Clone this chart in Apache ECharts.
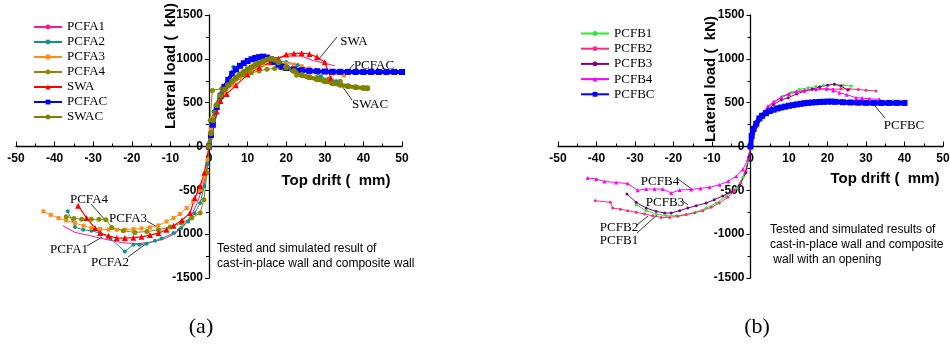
<!DOCTYPE html>
<html><head><meta charset="utf-8">
<script src="https://cdn.jsdelivr.net/npm/echarts@6/dist/echarts.min.js"></script>
<style>html,body{margin:0;padding:0;background:#fff}#c{width:950px;height:345px}</style>
</head><body><div id="c"></div>
<script>
// ---------- tick labels ----------
const xTicks = [-50,-40,-30,-20,-10,0,10,20,30,40,50];
const yTicks = [-1500,-1000,-500,0,500,1000,1500];

// ---------- panel (a) series: [top drift mm, lateral load kN] ----------
const PCFA1 = [[-37.9,-904],[-34.7,-980],[-31,-1015],[-28.2,-1045],[-25,-1075],[-23.1,-1095],[-20,-1105],[-17.9,-1106],[-15,-1090],[-12,-1060],[-9,-1000],[-6.5,-900],[-4.5,-780],[-3,-640],[-1.5,-450],[-0.5,-200],[0,0],[0.5,200],[1,330],[2,480],[4,630],[6,740],[8,830],[10,900],[13,960],[16,1000],[19,1025],[22,1035],[24,1030],[27,980],[30,950],[32.6,920]];
const PCFA2 = [[-36.6,-740],[-34.7,-919],[-32.6,-950],[-30.5,-961],[-28.2,-988],[-25.5,-1050],[-21.8,-1198],[-19.6,-1121],[-18,-1121],[-16.2,-1110],[-14,-1076],[-12.3,-1049],[-9.2,-988],[-7.2,-930],[-5.4,-855],[-3.7,-760],[-2.3,-645],[-1.2,-450],[-0.4,-200],[0,0],[0.5,250],[1.2,400],[3,600],[6.3,908],[8,920],[10,960],[12,985],[14,995],[16,990],[18,980],[20,965],[23,930],[26,880],[29,800],[31,760],[33,745]];
const PCFA3 = [[-42.9,-740],[-41,-780],[-39,-816],[-37,-845],[-34.7,-874],[-32.5,-904],[-30.4,-931],[-28.2,-942],[-26,-948],[-23.9,-950],[-21.7,-948],[-19.6,-942],[-17.5,-935],[-15.3,-923],[-13.1,-900],[-11,-855],[-9.2,-816],[-7.5,-770],[-5.8,-702],[-4.1,-626],[-2.3,-492],[-1.2,-350],[-0.4,-150],[0,0],[0.5,200],[1,320],[2,450],[4,600],[6,700],[8,780],[10,850],[12,900],[14,935],[16,950],[18,950],[20,945],[22,935],[24,915],[26,890],[28,870],[30,850],[32,830],[35,810]];
const PCFA4 = [[-37,-800],[-35,-820],[-33,-830],[-30.5,-830],[-28.5,-830],[-26.7,-835],[-25.2,-923],[-22.2,-961],[-19.2,-980],[-16.1,-970],[-13.1,-950],[-10.1,-919],[-7.1,-874],[-4.5,-816],[-2.3,-759],[-1.3,-606],[-0.5,-300],[0,0],[0.3,300],[0.86,640],[3.3,660],[5,720],[7,770],[9,812],[11,840],[13,862],[15,880],[17,890],[18.4,900],[20,890],[22.7,812],[25,800],[28,786],[31,770],[34,745]];
const SWA = [[-33.9,-675],[-31.7,-816],[-29.5,-931],[-28.2,-988],[-26,-1018],[-23.9,-1045],[-21.8,-1045],[-19.6,-1040],[-17.5,-1030],[-15.3,-1010],[-13.1,-988],[-11,-950],[-9.2,-904],[-7,-840],[-4.9,-759],[-3.7,-587],[-2.3,-450],[-1.2,-300],[0,0],[0.5,150],[1,250],[2,400],[3,520],[4.6,600],[7,700],[10,820],[13,900],[16,960],[18,1000],[20,1050],[22,1060],[24,1065],[26,1055],[28,1020],[30,960],[31.6,775]];
const PCFAC = [[0,0],[0.5,130],[1,250],[2,450],[3,580],[4,680],[5,760],[6,830],[7,880],[8,920],[9,950],[10,975],[11,995],[12,1010],[13,1020],[14,1025],[15,1015],[16,995],[17,965],[18,935],[19,910],[20,895],[22,880],[24,870],[26,862],[28,858],[30,855],[32,853],[34,852],[36,851],[38,850],[40,850],[42,850],[44,850],[46,850],[48,850],[50,850]];
const SWAC = [[0,0],[0.5,150],[1,300],[2,470],[3,580],[4,650],[5,700],[6,745],[7,785],[8,820],[9,850],[10,880],[11,905],[12,930],[13,950],[14,970],[15,990],[16,1000],[17,990],[18,960],[20,905],[22,860],[24,815],[26,790],[28,767],[30,745],[32,722],[34,705],[36,688],[38,675],[40,667],[41,664]];

// ---------- panel (b) series ----------
const PCFB1 = [[-29.7,-664],[-27.1,-732],[-24.5,-770],[-21.9,-790],[-19.3,-790],[-16.7,-775],[-14.1,-747],[-11.5,-702],[-8.9,-645],[-6.3,-568],[-3.7,-473],[-2,-350],[-0.7,-180],[0,0],[0.5,130],[1.5,232],[2.8,347],[4.5,442],[6,500],[8.4,576],[10.5,615],[12.7,652],[15,670],[17,683],[19,695],[21.8,709],[24,700],[26.2,690]];
const PCFB2 = [[-40.3,-618],[-36.4,-637],[-35.8,-702],[-33.8,-715],[-31.9,-732],[-29.7,-751],[-27.5,-770],[-25.4,-790],[-23.2,-809],[-21,-809],[-18.9,-797],[-16.7,-778],[-14.5,-757],[-12.4,-732],[-10.2,-694],[-8.1,-645],[-5.9,-580],[-4.2,-511],[-2.5,-416],[-1.2,-280],[-0.4,-120],[0,0],[0.5,120],[1.5,230],[3,350],[4.5,440],[6,500],[8,560],[10,600],[12,625],[14,640],[16,650],[18,655],[20,655],[21.4,652],[23.5,656],[25.7,656],[28,650],[30,642],[32.6,633]];
const PCFB3 = [[-32.1,-541],[-29.7,-637],[-27.1,-702],[-24.5,-740],[-22.3,-759],[-20.6,-759],[-18.4,-732],[-16.3,-702],[-14.1,-675],[-11.5,-645],[-9.4,-606],[-7.2,-565],[-5,-519],[-2.8,-443],[-1.2,-300],[-0.4,-120],[0,0],[0.5,120],[1.5,220],[3,330],[4.5,420],[6,480],[8,530],[9.8,557],[12,600],[14,630],[16,655],[18,680],[20,700],[21.8,709],[23.5,690],[25.3,644]];
const PCFB4 = [[-42.3,-358],[-40.1,-370],[-37.9,-400],[-34.9,-410],[-31.9,-423],[-29.3,-500],[-27.1,-485],[-24.9,-485],[-22.8,-485],[-20.6,-530],[-18.4,-496],[-15.4,-490],[-13,-478],[-10.6,-465],[-8,-435],[-5.8,-397],[-3.7,-340],[-2,-263],[-0.7,-149],[0,0],[0.5,140],[1.5,250],[3,370],[4.5,460],[6,510],[8,560],[10,600],[12,625],[14,640],[17,652],[19.7,660],[21.5,640],[23.1,614],[25,590],[27.4,557],[29,552],[30.9,545],[33.5,538]];
const PCFBC = [[0,0],[0.3,120],[0.8,200],[1.5,260],[2.3,320],[3,350],[4,380],[5,405],[6,420],[7,435],[8,445],[9,455],[10,465],[11,472],[12,480],[13,487],[14,493],[15,498],[16,502],[17,505],[18,508],[19,510],[20,512],[21,512],[22,510],[24,505],[26,502],[28,500],[30,498],[32,497],[34,497],[36,497],[38,497],[40,497]];

const namesA = ['PCFA1','PCFA2','PCFA3','PCFA4','SWA','PCFAC','SWAC'];
const namesB = ['PCFB1','PCFB2','PCFB3','PCFB4','PCFBC'];

// ---------- styling ----------
const SANS = 'Liberation Sans, Arial, sans-serif';
const SERIF = 'Liberation Serif, Times New Roman, serif';
const GRIDS = [{left:16, top:15, width:386, height:263}, {left:558, top:15, width:385, height:263}];

function xAxisCfg(gi){
  return {type:'value', gridIndex:gi, position:'bottom', offset:-GRIDS[gi].height/2,
    min:xTicks[0], max:xTicks[xTicks.length-1], interval:10,
    axisLine:{onZero:false, lineStyle:{color:'#000', width:1.3}},
    axisTick:{inside:true, length:5, lineStyle:{color:'#000', width:1}},
    minorTick:{show:true, splitNumber:2, length:3, lineStyle:{color:'#000'}},
    splitLine:{show:false},
    axisLabel:{color:'#000', fontWeight:'bold', fontSize:12, fontFamily:SANS, margin:6, formatter:v=>String(v)}};
}
function yAxisCfg(gi){
  return {type:'value', gridIndex:gi, position:'left', offset:-GRIDS[gi].width/2,
    min:yTicks[0], max:yTicks[yTicks.length-1], interval:500,
    axisLine:{onZero:false, lineStyle:{color:'#000', width:1.3}},
    axisTick:{inside:false, length:4, lineStyle:{color:'#000', width:1}},
    minorTick:{show:true, splitNumber:2, length:3, lineStyle:{color:'#000'}},
    splitLine:{show:false},
    axisLabel:{color:'#000', fontWeight:'bold', fontSize:12, fontFamily:SANS, margin:6, formatter:v=>String(v)}};
}
function ser(name, data, gi, color, symbol, size, width){
  return {name, type:'line', data, xAxisIndex:gi, yAxisIndex:gi,
    symbol: symbol, symbolSize:size, showSymbol: symbol!=='none', clip:false,
    lineStyle:{color, width}, itemStyle:{color}, z: 2};
}

const chart = echarts.init(document.getElementById('c'), null, {renderer:'canvas'});

function txt(x, y, s, font, opts){
  return {type:'text', x, y, style:Object.assign({text:s, font, fill:'#000', textAlign:'center', textVerticalAlign:'middle'}, opts||{})};
}
function ln(x1,y1,x2,y2){
  return {type:'line', shape:{x1,y1,x2,y2}, style:{stroke:'#000', lineWidth:0.8}};
}
const tFont = '13px ' + SERIF;
const graphic = [
  Object.assign(txt(171, 66, 'Lateral load (  kN)', 'bold 15px ' + SANS), {rotation:Math.PI/2}),
  Object.assign(txt(711, 79, 'Lateral load (  kN)', 'bold 15px ' + SANS), {rotation:Math.PI/2}),
  txt(336, 181, 'Top drift (  mm)', 'bold 15px ' + SANS),
  txt(885, 179, 'Top drift (  mm)', 'bold 15px ' + SANS),
  txt(217, 249, 'Tested and simulated result of', '12px ' + SANS, {textAlign:'left'}),
  txt(217, 264, 'cast-in-place wall and composite wall', '12px ' + SANS, {textAlign:'left'}),
  txt(770, 230, 'Tested and simulated results of', '12px ' + SANS, {textAlign:'left'}),
  txt(770, 245, 'cast-in-place wall and composite', '12px ' + SANS, {textAlign:'left'}),
  txt(770, 260, ' wall with an opening', '12px ' + SANS, {textAlign:'left'}),
  txt(201, 327, '(a)', '22px ' + SERIF),
  txt(757, 327, '(b)', '22px ' + SERIF),
  // panel (a) annotations
  txt(354, 42, 'SWA', tFont), ln(337,37,318,60),
  txt(374, 66, 'PCFAC', tFont), ln(354,64,347,72),
  txt(370, 105, 'SWAC', tFont), ln(352,100,342,86),
  txt(89, 200, 'PCFA4', tFont), ln(91,204,106,221),
  txt(128, 219, 'PCFA3', tFont), ln(147,221,157,227),
  txt(69, 250, 'PCFA1', tFont), ln(87,246,102,237),
  txt(110, 263, 'PCFA2', tFont), ln(128,257,147,243),
  // panel (b) annotations
  txt(660, 182, 'PCFB4', tFont), ln(678,179,693,190),
  txt(665, 203, 'PCFB3', tFont), ln(683,201,688,205),
  txt(619, 228, 'PCFB2', tFont), ln(637,225,648,216),
  txt(619, 241, 'PCFB1', tFont), ln(637,233,657,215),
  txt(904, 126, 'PCFBC', tFont), ln(885,118,875,106)
];

chart.setOption({
  animation:false,
  backgroundColor:'#fff',
  grid: GRIDS.map(g => Object.assign({containLabel:false, outerBoundsMode:'none'}, g)),
  xAxis:[xAxisCfg(0), xAxisCfg(1)],
  yAxis:[yAxisCfg(0), yAxisCfg(1)],
  legend:[
    {data:namesA, orient:'vertical', left:33, top:19.5, padding:0, itemWidth:28, itemHeight:6, itemGap:0,
     textStyle:{fontFamily:SERIF, fontSize:13, color:'#000', lineHeight:15}},
    {data:namesB, orient:'vertical', left:580, top:26, padding:0, itemWidth:28, itemHeight:6, itemGap:0.2,
     textStyle:{fontFamily:SERIF, fontSize:13, color:'#000', lineHeight:15}}
  ],
  series:[
    ser('PCFA1', PCFA1, 0, '#ff1493', 'none', 0, 1),
    ser('PCFA2', PCFA2, 0, '#109090', 'circle', 4, 1),
    ser('PCFA3', PCFA3, 0, '#ff8c1a', 'rect', 4, 1),
    ser('PCFA4', PCFA4, 0, '#8a8a00', 'circle', 5, 1),
    ser('SWA',   SWA,   0, '#ff0000', 'triangle', 6, 1.2),
    ser('PCFAC', PCFAC, 0, '#0000ff', 'rect', 6, 4),
    ser('SWAC',  SWAC,  0, '#808000', 'circle', 6, 4),
    ser('PCFB1', PCFB1, 1, '#33e633', 'circle', 3, 1),
    ser('PCFB2', PCFB2, 1, '#ff2a80', 'circle', 3, 1),
    ser('PCFB3', PCFB3, 1, '#800080', 'circle', 3, 1),
    ser('PCFB4', PCFB4, 1, '#ff00ff', 'triangle', 4, 1),
    ser('PCFBC', PCFBC, 1, '#0000ff', 'rect', 6, 5)
  ],
  graphic: graphic
});
</script></body></html>
